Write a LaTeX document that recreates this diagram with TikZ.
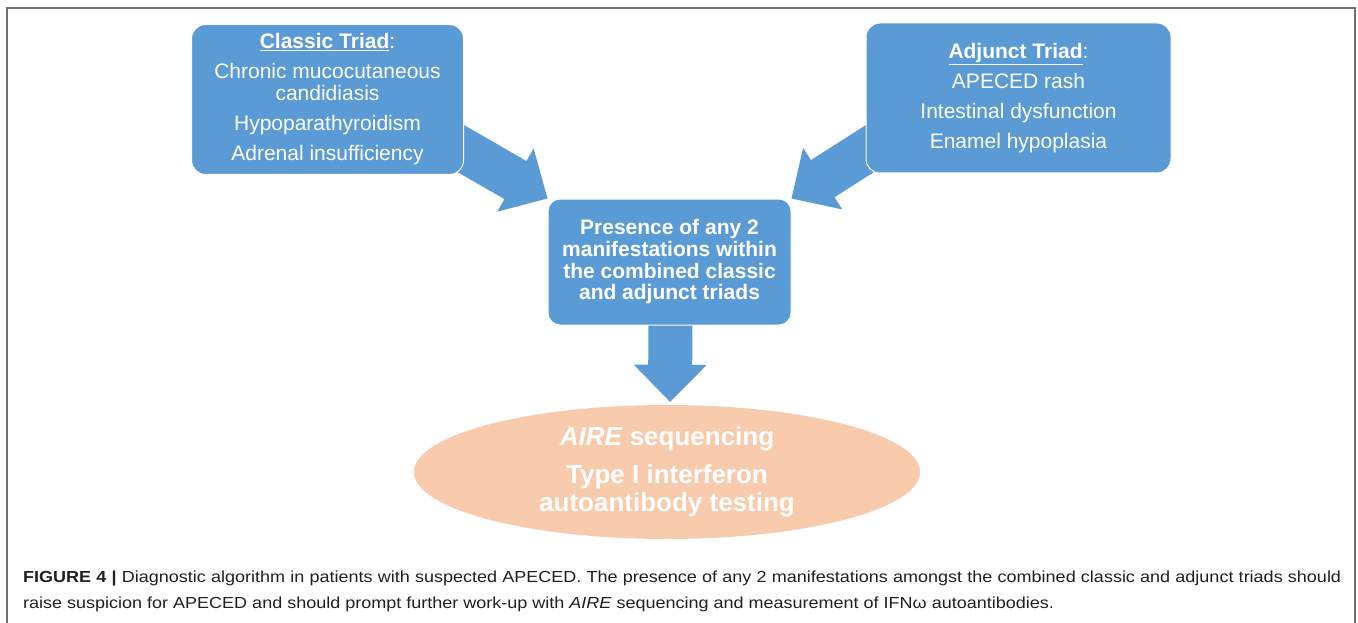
\documentclass[tikz,border=0pt]{standalone}
\usepackage{fontspec}
\setmainfont{Liberation Sans}
\newfontfamily\captionfont[FakeStretch=1.125]{Liberation Sans}
\usetikzlibrary{shapes.geometric,calc,backgrounds}
\pgfdeclarelayer{bottomlayer}
\pgfsetlayers{bottomlayer,background,main}
\definecolor{boxblue}{HTML}{5B9BD5}
\definecolor{ellorange}{HTML}{F8CBAD}
\definecolor{framegray}{HTML}{707070}
\definecolor{captext}{HTML}{231F20}
\newcommand\fatarrowdraw[2]{%
  \path coordinate (fah) at ($(#2)!37pt!(#1)$);
  \fill[boxblue] ($(#1)!22pt!90:(#2)$) -- ($(fah)!22pt!90:(#2)$) -- ($(fah)!36.5pt!90:(#2)$) -- (#2)
    -- ($(fah)!36.5pt!-90:(#2)$) -- ($(fah)!22pt!-90:(#2)$) -- ($(#1)!22pt!-90:(#2)$) -- cycle;
}
\tikzset{
  bluebox/.style={rectangle, rounded corners=14pt, fill=boxblue, draw=white, line width=1pt,
    text=white, align=center, inner sep=0pt},
  regtext/.style={font=\fontsize{21}{22}\selectfont},
  boldtext/.style={font=\fontsize{21}{21.7}\selectfont\bfseries},
  resultell/.style={ellipse, fill=ellorange, draw=none, inner sep=0pt, text=white, align=center,
    font=\fontsize{26}{28}\selectfont\bfseries},
  captionstyle/.style={anchor=base west, text width=1318pt, align=justify, inner sep=0pt, text=captext,
    font=\captionfont\fontsize{16}{26}\selectfont},
  framestyle/.style={draw=framegray, line width=1.3pt},
}
\begin{document}
\begin{tikzpicture}[x=1pt,y=-1pt]
\useasboundingbox (0,0) rectangle (1358,623);
\begin{pgfonlayer}{bottomlayer}
  \fill[white] (0,0) rectangle (1358,623);
\end{pgfonlayer}
\coordinate (fbl) at (7,625);
\coordinate (ftl) at (7,8);
\coordinate (ftr) at (1355,8);
\coordinate (fbr) at (1355,625);
\draw[framestyle] (fbl) -- (ftl) -- (ftr) -- (fbr);

\node[bluebox, regtext, minimum width=272pt, minimum height=150pt] (classic) at (327.5,99.5)
  {\underline{\textbf{Classic Triad}}:\\[8pt] Chronic mucocutaneous\\ candidiasis\\[8pt] Hypoparathyroidism\\[8pt] Adrenal insufficiency};
\node[bluebox, regtext, minimum width=305pt, minimum height=150pt] (adjunct) at (1018.5,98)
  {\underline{\textbf{Adjunct Triad}}:\\[8pt] APECED rash\\[8pt] Intestinal dysfunction\\[8pt] Enamel hypoplasia};
\node[bluebox, boldtext, rounded corners=12pt, minimum width=243pt, minimum height=126pt] (center) at (669.5,262)
  {Presence of any 2\\ manifestations within\\ the combined classic\\ and adjunct triads};
\node[resultell, minimum width=506pt, minimum height=134pt] (aire) at (667,472)
  {\textit{AIRE} sequencing\\[10pt] Type I interferon\\ autoantibody testing};

\coordinate (lstart) at ($(center.north west)+(-113,-65)$);
\coordinate (rstart) at ($(center.north east)+(110,-70)$);
\coordinate (dtip) at ($(aire.north)+(3,-3)$);
\coordinate (dstart) at ($(center.south)+(1,-10)$);
\begin{pgfonlayer}{background}
  \fatarrowdraw{lstart}{center.north west}
  \fatarrowdraw{rstart}{center.north east}
  \fatarrowdraw{dstart}{dtip}
\end{pgfonlayer}

\node[captionstyle] (caption) at (23,582)
  {\textbf{FIGURE 4 |} Diagnostic algorithm in patients with suspected APECED. The presence of any 2 manifestations amongst the combined classic and adjunct triads should\linebreak
   raise suspicion for APECED and should prompt further work-up with \textit{AIRE} sequencing and measurement of IFNω autoantibodies.};
\end{tikzpicture}
\end{document}
